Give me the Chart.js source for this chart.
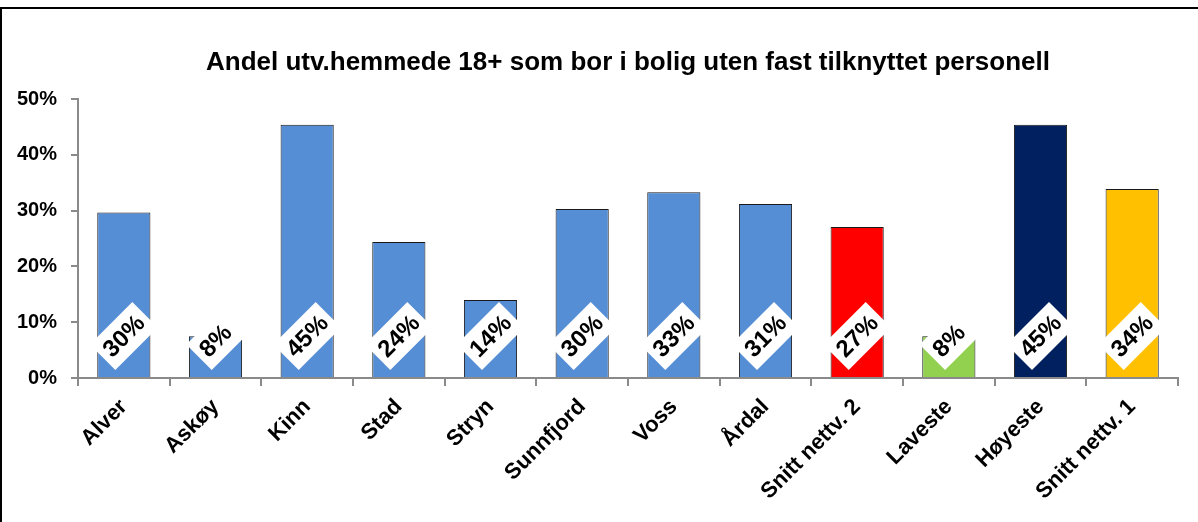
<!DOCTYPE html>
<html>
<head>
<meta charset="utf-8">
<script src="https://cdn.jsdelivr.net/npm/chart.js@4.4.1/dist/chart.umd.min.js"></script>
<style>
body{margin:0;background:#fff;}
#wrap{position:absolute;left:0;top:7px;width:1196px;height:513px;border-top:2px solid #000;border-left:2px solid #000;}
</style>
</head>
<body>
<div id="wrap"><canvas id="myChart" width="1196" height="513"></canvas></div>
<script>
var categories = ["Alver", "Askøy", "Kinn", "Stad", "Stryn", "Sunnfjord", "Voss", "Årdal", "Snitt nettv. 2", "Laveste", "Høyeste", "Snitt nettv. 1"];
var values = [29.7, 7.5, 45.4, 24.4, 14.0, 30.3, 33.3, 31.2, 27.1, 7.5, 45.4, 33.9];
var barColors = ["#558ED5", "#558ED5", "#558ED5", "#558ED5", "#558ED5", "#558ED5", "#558ED5", "#558ED5", "#FF0000", "#92D050", "#002060", "#FFC000"];
var yMin = 0, yMax = 50, yStep = 10;
var title = "Andel utv.hemmede 18+ som bor i bolig uten fast tilknyttet personell";

var FONT = '"Liberation Sans", Arial, sans-serif';
var axisGray = "#8a8a8a";

// white rotated boxes with the rounded value, near the base of each bar
var valueLabels = {
	id: "valueLabels",
	afterDatasetsDraw: function(chart) {
		var ctx = chart.ctx;
		var meta = chart.getDatasetMeta(0);
		var base = chart.scales.y.getPixelForValue(0);
		ctx.save();
		ctx.font = "bold 24px " + FONT;
		meta.data.forEach(function(bar, i) {
			var text = Math.round(values[i]) + "%";
			var w = ctx.measureText(text).width + 12, h = 36;
			var cy = base - 8 - 0.7071 * (w + h) / 2;
			ctx.save();
			ctx.translate(bar.x, cy);
			ctx.rotate(-Math.PI / 4);
			ctx.fillStyle = "#fff";
			ctx.fillRect(-w / 2, -h / 2, w, h);
			ctx.fillStyle = "#000";
			ctx.textAlign = "center";
			ctx.textBaseline = "middle";
			ctx.fillText(text, 0, 1);
			ctx.restore();
		});
		ctx.restore();
	}
};

var ctx = document.getElementById("myChart");
var myChart = new Chart(ctx, {
	type: "bar",
	data: {
		labels: categories,
		datasets: [{
			data: values,
			backgroundColor: barColors,
			borderColor: "#1a1a1a",
			borderWidth: 1,
			barPercentage: 0.58,
			categoryPercentage: 1
		}]
	},
	options: {
		responsive: false,
		maintainAspectRatio: false,
		animation: false,
		layout: { padding: { left: 0, right: 20, top: 0, bottom: 0 } },
		plugins: {
			legend: { display: false },
			tooltip: { enabled: false },
			title: {
				display: true,
				text: title,
				fullSize: false,
				color: "#000",
				font: { family: FONT, size: 26, weight: "bold" },
				padding: { top: 38, bottom: 21 }
			}
		},
		scales: {
			x: {
				grid: { display: true, drawOnChartArea: false, offset: true, color: axisGray, lineWidth: 2, tickLength: 8 },
				border: { color: axisGray, width: 2 },
				ticks: { color: "#000", font: { family: FONT, size: 22, weight: "bold" }, maxRotation: 45, minRotation: 45, padding: 8 },
				afterFit: function(scale) { scale.height = 144; }
			},
			y: {
				min: yMin,
				max: yMax,
				ticks: { stepSize: yStep, color: "#000", font: { family: FONT, size: 20, weight: "bold" }, padding: 14, callback: function(v) { return v + "%"; } },
				grid: { drawOnChartArea: false, color: axisGray, lineWidth: 2, tickLength: 7 },
				border: { color: axisGray, width: 2 },
				afterFit: function(scale) { scale.width = 76; }
			}
		}
	},
	plugins: [valueLabels]
});
</script>
</body>
</html>
